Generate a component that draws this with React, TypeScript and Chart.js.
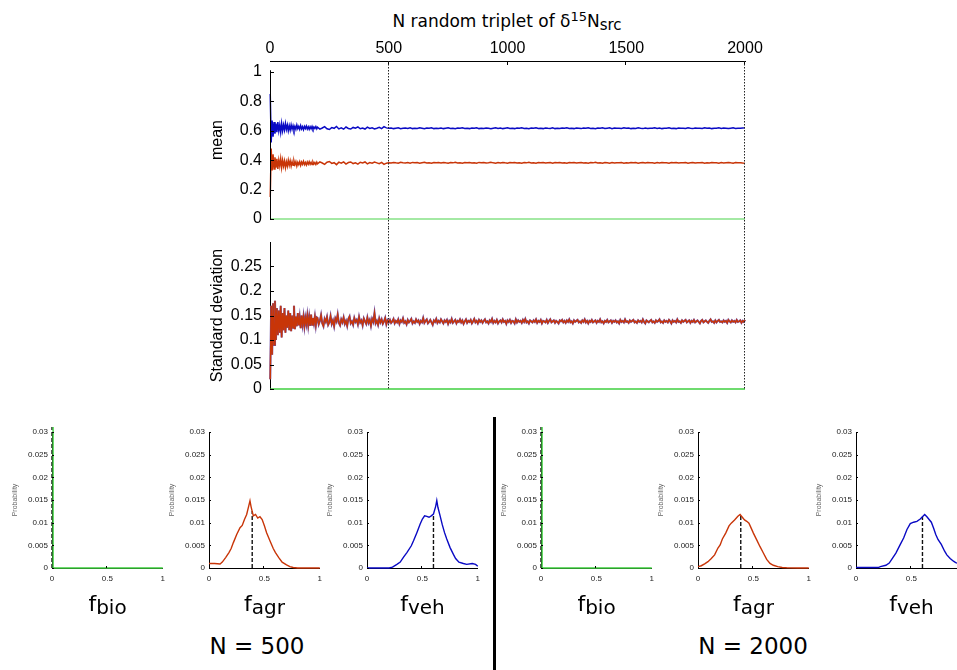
import React, { useEffect, useRef } from "react";
import { Chart, registerables } from "chart.js";
Chart.register(...registerables);

// ---------- time-series data (N random triplets) ----------
// early samples: N = 1, 5, 9, ... ; late mean samples: N = 200, 210, ... ; late std samples: N = 200, 205, ...
const N_EARLY_START = 1;
const N_EARLY_STEP = 4;
const N_LATE_START = 200;
const N_MEAN_LATE_STEP = 10;
const N_STD_LATE_STEP = 5;

const meanVehEarly = [0.85,0.52,0.67,0.56,0.66,0.58,0.65,0.59,0.66,0.6,0.64,0.59,0.65,0.6,0.64,0.605,0.65,0.61,0.64,0.6,0.635,0.605,0.64,0.61,0.635,0.605,0.63,0.61,0.64,0.615,0.63,0.61,0.635,0.612,0.628,0.608,0.63,0.615,0.632,0.612,0.627,0.61,0.628,0.614,0.63,0.612,0.626,0.616,0.629,0.613];
const meanAgrEarly = [0.15,0.48,0.33,0.44,0.34,0.42,0.35,0.41,0.34,0.4,0.36,0.41,0.35,0.4,0.36,0.395,0.35,0.39,0.36,0.4,0.365,0.395,0.36,0.39,0.365,0.395,0.37,0.39,0.36,0.385,0.37,0.39,0.365,0.388,0.372,0.392,0.37,0.385,0.368,0.388,0.373,0.39,0.372,0.386,0.37,0.388,0.374,0.384,0.371,0.387];
const stdEarly = [0.02,0.17,0.07,0.175,0.09,0.18,0.1,0.165,0.11,0.16,0.115,0.17,0.105,0.155,0.12,0.165,0.115,0.15,0.125,0.16,0.12,0.155,0.118,0.15,0.125,0.17,0.122,0.148,0.128,0.155,0.13,0.146,0.124,0.15,0.132,0.148,0.128,0.145,0.133,0.15,0.13,0.147,0.129,0.152,0.131,0.145,0.134,0.148,0.13,0.146];

const meanVehLate = [
0.624,0.611,0.619,0.628,0.614,0.609,0.622,0.617,0.63,0.613,0.62,0.611,0.626,0.616,0.612,0.623,0.618,0.627,0.614,0.619,0.612,0.625,0.616,0.621,0.613,0.618,0.624,0.615,0.628,0.62,0.617,
0.619,0.615,0.618,0.62,0.614,0.617,0.619,0.616,0.621,0.615,
0.618,0.616,0.62,0.617,0.614,0.619,0.617,0.62,0.615,0.618,
0.616,0.619,0.615,0.618,0.62,0.616,0.618,0.614,0.619,0.617,
0.62,0.616,0.618,0.615,0.619,0.617,0.621,0.615,0.618,0.616,
0.619,0.617,0.614,0.618,0.62,0.616,0.619,0.615,0.618,0.62,
0.616,0.618,0.615,0.619,0.617,0.62,0.616,0.618,0.614,0.619,
0.617,0.62,0.616,0.618,0.615,0.619,0.617,0.616,0.62,0.615,
0.618,0.616,0.619,0.617,0.621,0.616,0.618,0.615,0.619,0.617,
0.615,0.619,0.617,0.62,0.616,0.618,0.614,0.619,0.617,0.62,
0.616,0.618,0.62,0.615,0.619,0.617,0.618,0.616,0.62,0.617,
0.619,0.615,0.618,0.616,0.62,0.617,0.615,0.619,0.616,0.618,
0.617,0.62,0.616,0.619,0.615,0.618,0.617,0.621,0.616,0.618,
0.615,0.619,0.617,0.618,0.616,0.62,0.617,0.615,0.619,0.617,
0.618,0.616,0.62,0.617,0.619,0.615,0.618,0.617,0.62,0.616,
0.619,0.617,0.615,0.618,0.62,0.616,0.618,0.617,0.619,0.62];

const meanAgrLate = [
0.376,0.389,0.381,0.372,0.386,0.391,0.378,0.383,0.37,0.387,0.38,0.389,0.374,0.384,0.388,0.377,0.382,0.373,0.386,0.381,0.388,0.375,0.384,0.379,0.387,0.382,0.376,0.385,0.372,0.38,0.383,
0.381,0.385,0.382,0.38,0.386,0.383,0.381,0.384,0.379,0.385,
0.382,0.384,0.38,0.383,0.386,0.381,0.383,0.38,0.385,0.382,
0.384,0.381,0.385,0.382,0.38,0.384,0.382,0.386,0.381,0.383,
0.38,0.384,0.382,0.385,0.381,0.383,0.379,0.385,0.382,0.384,
0.381,0.383,0.386,0.382,0.38,0.384,0.381,0.385,0.382,0.38,
0.384,0.382,0.385,0.381,0.383,0.38,0.384,0.382,0.386,0.381,
0.383,0.38,0.384,0.382,0.385,0.381,0.383,0.384,0.38,0.385,
0.382,0.384,0.381,0.383,0.379,0.384,0.382,0.385,0.381,0.383,
0.385,0.381,0.383,0.38,0.384,0.382,0.386,0.381,0.383,0.38,
0.384,0.382,0.38,0.385,0.381,0.383,0.382,0.384,0.38,0.383,
0.381,0.385,0.382,0.384,0.38,0.383,0.385,0.381,0.384,0.382,
0.383,0.38,0.384,0.381,0.385,0.382,0.383,0.379,0.384,0.382,
0.385,0.381,0.383,0.382,0.384,0.38,0.383,0.385,0.381,0.383,
0.382,0.384,0.38,0.383,0.381,0.385,0.382,0.383,0.38,0.384,
0.381,0.383,0.385,0.382,0.38,0.384,0.382,0.383,0.381,0.38];

// std of f_agr and f_veh coincide (f_agr + f_veh = 1, f_bio = 0)
const stdLate = [
0.145,0.132,0.139,0.151,0.134,0.128,0.143,0.137,0.147,0.131,
0.136,0.149,0.133,0.14,0.128,0.144,0.138,0.152,0.135,0.13,
0.142,0.136,0.146,0.133,0.139,0.129,0.143,0.148,0.134,0.138,
0.131,0.145,0.137,0.141,0.132,0.147,0.136,0.14,0.13,0.144,
0.138,0.133,0.146,0.135,0.141,0.129,0.143,0.137,0.155,0.134,
0.139,0.131,0.144,0.136,0.142,0.133,0.138,0.145,0.132,0.14,
0.136,
0.141,0.135,0.138,0.143,0.134,0.139,0.136,0.142,0.133,0.14,
0.137,0.144,0.135,0.138,0.132,0.141,0.136,0.139,0.143,0.134,
0.138,0.135,0.142,0.137,0.14,0.133,0.139,0.136,0.145,0.135,
0.139,0.142,0.134,0.137,0.141,0.136,0.131,0.14,0.137,0.143,
0.135,0.139,0.136,0.142,0.138,0.134,0.14,0.137,0.141,0.133,
0.139,0.136,0.143,0.135,0.138,0.141,0.134,0.139,0.137,0.142,
0.136,0.14,0.133,0.138,0.142,0.135,0.139,0.137,0.141,0.134,
0.138,0.143,0.136,0.139,0.134,0.141,0.137,0.14,0.135,0.139,
0.142,0.136,0.138,0.134,0.14,0.137,0.143,0.135,0.139,0.136,
0.141,0.134,0.138,0.14,0.136,0.142,0.137,0.139,0.133,0.14,
0.137,0.141,0.135,0.139,0.138,0.134,0.142,0.136,0.14,0.137,
0.139,0.135,0.141,0.137,0.143,0.136,0.138,0.134,0.14,0.138,
0.136,0.14,0.137,0.142,0.135,0.139,0.137,0.141,0.134,0.139,
0.138,0.136,0.141,0.135,0.139,0.142,0.136,0.138,0.14,0.135,
0.139,0.137,0.134,0.14,0.138,0.141,0.136,0.139,0.135,0.14,
0.137,0.142,0.136,0.138,0.134,0.14,0.137,0.139,0.141,0.136,
0.138,0.135,0.14,0.137,0.142,0.136,0.139,0.134,0.139,0.137,
0.141,0.136,0.138,0.14,0.135,0.139,0.137,0.142,0.136,0.138,
0.134,0.139,0.137,0.141,0.136,0.138,0.14,0.135,0.139,0.137,
0.14,0.136,0.138,0.134,0.141,0.137,0.139,0.136,0.142,0.137,
0.138,0.135,0.14,0.137,0.139,0.141,0.136,0.138,0.135,0.14,
0.137,0.139,0.136,0.142,0.137,0.134,0.14,0.138,0.136,0.139,
0.141,0.136,0.138,0.135,0.14,0.137,0.139,0.142,0.136,0.138,
0.135,0.14,0.137,0.139,0.136,0.141,0.138,0.134,0.14,0.137,
0.139,0.136,0.142,0.137,0.138,0.135,0.14,0.137,0.139,0.141,
0.136,0.138,0.14,0.135,0.139,0.137,0.141,0.136,0.138,0.14,
0.137,0.134,0.139,0.141,0.136,0.138,0.14,0.137,0.135,0.139,
0.142,0.137,0.138,0.135,0.14,0.136,0.139,0.141,0.137,0.138,
0.136,0.14,0.137,0.139,0.135,0.141,0.138,0.136,0.14,0.137,
0.139,0.136,0.141,0.137,0.138,0.14,0.135,0.139,0.137,0.141];

const meanBio = [0, 0];
const stdBio = [0, 0];
const bioN = [1, 2000];

const topTicks = [0, 500, 1000, 1500, 2000];
const meanYTicks = [0, 0.2, 0.4, 0.6, 0.8, 1];
const stdYTicks = [0, 0.05, 0.1, 0.15, 0.2, 0.25];
const markerN = [500, 2000];

// ---------- histogram data ----------
const bioX = [0, 0.01, 1];
const bioY = [1, 0, 0];

const agr500X = [0,0.05,0.1,0.12,0.15,0.18,0.2,0.22,0.25,0.28,0.3,0.32,0.34,0.36,0.37,0.38,0.4,0.42,0.44,0.46,0.48,0.5,0.52,0.55,0.58,0.6,0.63,0.66,0.7,0.73,0.76,0.8,0.9,1];
const agr500Y = [0.001,0.001,0.0009,0.0013,0.0023,0.0034,0.0043,0.0056,0.0074,0.0089,0.0094,0.0107,0.0118,0.0138,0.0148,0.0135,0.0115,0.0118,0.011,0.0113,0.0107,0.0093,0.0078,0.006,0.0043,0.0034,0.0023,0.0013,0.0007,0.0003,0.0001,0,0,0];
const veh500X = [0,0.1,0.2,0.23,0.27,0.3,0.33,0.36,0.4,0.42,0.45,0.48,0.5,0.52,0.54,0.56,0.58,0.6,0.62,0.63,0.64,0.66,0.68,0.7,0.72,0.75,0.78,0.8,0.83,0.87,0.9,0.95,0.98,1];
const veh500Y = [0,0,0,0.0002,0.0008,0.0013,0.0024,0.0034,0.0049,0.006,0.0078,0.0097,0.0108,0.0115,0.0114,0.0112,0.0115,0.0119,0.0136,0.0149,0.0134,0.0115,0.0095,0.0078,0.0064,0.0045,0.003,0.0021,0.0013,0.001,0.0008,0.001,0.0008,0.0004];
const agr2000X = [0,0.03,0.06,0.09,0.12,0.15,0.18,0.2,0.22,0.25,0.28,0.3,0.33,0.36,0.38,0.4,0.42,0.44,0.46,0.48,0.5,0.53,0.56,0.59,0.62,0.65,0.68,0.72,0.76,0.8,0.9,1];
const agr2000Y = [0.0003,0.0005,0.0009,0.0014,0.0021,0.0029,0.0044,0.0051,0.0064,0.0077,0.0093,0.0099,0.0106,0.0114,0.0118,0.0112,0.0106,0.0103,0.0099,0.0088,0.0077,0.0062,0.0047,0.0033,0.0019,0.001,0.0006,0.0003,0.0001,0.00005,0,0];
const veh2000X = [0,0.1,0.2,0.22,0.27,0.3,0.33,0.36,0.4,0.43,0.46,0.49,0.52,0.55,0.58,0.6,0.62,0.64,0.66,0.68,0.7,0.72,0.74,0.77,0.8,0.82,0.85,0.88,0.9,0.95,1];
const veh2000Y = [0.0001,0.0001,0.0001,0.0003,0.0006,0.0011,0.0022,0.0033,0.0052,0.0066,0.0085,0.0098,0.0101,0.0103,0.0108,0.0113,0.0118,0.0113,0.0107,0.0101,0.0088,0.0074,0.0063,0.0052,0.0037,0.0029,0.0021,0.0015,0.0012,0.0008,0.0005];

// mean marker of each histogram: position and height
const histMeanX = [0, 0.39, 0.6, 0, 0.386, 0.6];
const histMeanTop = [1, 0.0126, 0.0119, 1, 0.0117, 0.0113];

const histLabels = ["bio", "agr", "veh", "bio", "agr", "veh"];
const groupLabels = ["N = 500", "N = 2000"];

// ---------- styling ----------
const AX_FONT = "'Liberation Sans', Arial, sans-serif";
const TXT_FONT = "'DejaVu Sans', sans-serif";
const BLUE = "#0a0ac4";
const RED = "#c83508";
const PURPLE = "#6f52a8";
const GREEN = "#86e286";
const GREEN_H = "#3fcf3f";

const toPts = (xs: number[], ys: number[]) => xs.map((x, i) => ({ x, y: ys[i] }));
const earlyPts = (ys: number[]) => ys.map((y, i) => ({ x: N_EARLY_START + N_EARLY_STEP * i, y }));
const latePts = (ys: number[], step: number) => ys.map((y, i) => ({ x: N_LATE_START + step * i, y }));
const fmt = (v: number | string) => String(Number(Number(v).toFixed(4)));
const noPad = (s: any) => { s.paddingTop = 0; s.paddingBottom = 0; s.paddingLeft = 0; s.paddingRight = 0; };

type TickOpts = { yLen: number; xLen: number; xVals: number[]; xSide: "top" | "bottom"; axisLineFrom?: number };

const inwardTicks = (o: TickOpts) => ({
  id: "inwardTicks",
  afterDatasetsDraw(chart: any) {
    const { ctx, chartArea, scales } = chart;
    ctx.save();
    ctx.strokeStyle = "#000";
    ctx.lineWidth = 1;
    ctx.setLineDash([]);
    const y = scales.y;
    y.ticks.forEach((t: any) => {
      const py = Math.round(y.getPixelForValue(t.value)) + 0.5;
      ctx.beginPath();
      ctx.moveTo(chartArea.left, py);
      ctx.lineTo(chartArea.left + o.yLen, py);
      ctx.stroke();
    });
    const x = scales.x;
    o.xVals.forEach((v) => {
      const px = Math.round(x.getPixelForValue(v)) - 0.5;
      const base = o.xSide === "top" ? chartArea.top : chartArea.bottom;
      ctx.beginPath();
      ctx.moveTo(px, base);
      ctx.lineTo(px, o.xSide === "top" ? base + o.xLen : base - o.xLen);
      ctx.stroke();
    });
    if (o.axisLineFrom !== undefined) {
      const px = Math.round(chartArea.left) + 0.5;
      ctx.beginPath();
      ctx.moveTo(px, y.getPixelForValue(o.axisLineFrom));
      ctx.lineTo(px, chartArea.bottom);
      ctx.stroke();
    }
    ctx.restore();
  },
});

const dottedLines = (from: "area" | "canvas", to: "area" | "canvas") => ({
  id: "dottedLines",
  afterDatasetsDraw(chart: any) {
    const { ctx, chartArea, scales, height } = chart;
    const y0 = from === "area" ? chartArea.top : 0;
    const y1 = to === "area" ? chartArea.bottom : height;
    ctx.save();
    ctx.strokeStyle = "#222";
    ctx.lineWidth = 1;
    ctx.setLineDash([1.5, 1.5]);
    markerN.forEach((n) => {
      const px = Math.round(scales.x.getPixelForValue(n)) - 0.5;
      ctx.beginPath();
      ctx.moveTo(px, y0);
      ctx.lineTo(px, y1);
      ctx.stroke();
    });
    ctx.restore();
  },
});

const lineDs = (data: any[], color: string, width: number) => ({
  data,
  borderColor: color,
  borderWidth: width,
  pointRadius: 0,
  fill: false,
  tension: 0,
  clip: 5,
});

function meanConfig(): any {
  return {
    type: "line",
    data: {
      datasets: [
        lineDs([...earlyPts(meanVehEarly), ...latePts(meanVehLate, N_MEAN_LATE_STEP)], BLUE, 1.5),
        lineDs([...earlyPts(meanAgrEarly), ...latePts(meanAgrLate, N_MEAN_LATE_STEP)], RED, 1.5),
        lineDs(toPts(bioN, meanBio), GREEN, 1.5),
      ],
    },
    options: {
      responsive: false,
      animation: false,
      events: [],
      layout: { padding: { left: 0, right: 55, top: 0, bottom: 9 } },
      plugins: { legend: { display: false }, tooltip: { enabled: false } },
      scales: {
        x: {
          type: "linear",
          position: "top",
          min: 0,
          max: 2000,
          afterBuildTicks: (s: any) => { s.ticks = topTicks.map((v) => ({ value: v })); },
          afterFit: (s: any) => { s.height = 61; noPad(s); },
          grid: { display: false, drawTicks: false },
          border: { display: true, color: "#000", width: 1 },
          ticks: { color: "#000", padding: 3, font: { family: AX_FONT, size: 16 }, maxRotation: 0, autoSkip: false, callback: (v: any) => fmt(v) },
        },
        y: {
          min: 0,
          max: 1.075,
          afterBuildTicks: (s: any) => { s.ticks = meanYTicks.map((v) => ({ value: v })); },
          afterFit: (s: any) => { s.width = 70; noPad(s); },
          grid: { display: false, drawTicks: false },
          border: { display: false },
          ticks: { color: "#000", padding: 8, font: { family: AX_FONT, size: 16 }, callback: (v: any) => fmt(v) },
          title: { display: true, text: "mean", color: "#000", font: { family: AX_FONT, size: 16 }, padding: { top: 8, bottom: 0 } },
        },
      },
    },
    plugins: [inwardTicks({ yLen: 4, xLen: 4, xVals: [500, 1000, 1500, 2000], xSide: "top", axisLineFrom: 1.012 }), dottedLines("area", "canvas")],
  };
}

function stdConfig(): any {
  const stdPts = [...earlyPts(stdEarly), ...latePts(stdLate, N_STD_LATE_STEP)];
  return {
    type: "line",
    data: {
      datasets: [
        lineDs(stdPts, RED, 1.4),
        lineDs(stdPts, PURPLE, 2.1),
        lineDs(toPts(bioN, stdBio), GREEN_H, 1.5),
      ],
    },
    options: {
      responsive: false,
      animation: false,
      events: [],
      layout: { padding: { left: 0, right: 55, top: 14, bottom: 11 } },
      plugins: { legend: { display: false }, tooltip: { enabled: false } },
      scales: {
        x: { type: "linear", display: false, min: 0, max: 2000 },
        y: {
          min: 0,
          max: 0.3,
          afterBuildTicks: (s: any) => { s.ticks = stdYTicks.map((v) => ({ value: v })); },
          afterFit: (s: any) => { s.width = 70; noPad(s); },
          grid: { display: false, drawTicks: false },
          border: { display: true, color: "#000", width: 1 },
          ticks: { color: "#000", padding: 8, font: { family: AX_FONT, size: 16 }, callback: (v: any) => fmt(v) },
          title: { display: true, text: "Standard deviation", color: "#000", font: { family: AX_FONT, size: 16 }, padding: { top: 8, bottom: 0 } },
        },
      },
    },
    plugins: [inwardTicks({ yLen: 4, xLen: 0, xVals: [], xSide: "bottom" }), dottedLines("canvas", "area")],
  };
}

const histSeries = [
  { xs: bioX, ys: bioY, color: GREEN_H },
  { xs: agr500X, ys: agr500Y, color: RED },
  { xs: veh500X, ys: veh500Y, color: BLUE },
  { xs: bioX, ys: bioY, color: GREEN_H },
  { xs: agr2000X, ys: agr2000Y, color: RED },
  { xs: veh2000X, ys: veh2000Y, color: BLUE },
];

function histConfig(i: number): any {
  const h = histSeries[i];
  return {
    type: "line",
    data: {
      datasets: [
        lineDs(toPts(h.xs, h.ys), h.color, 1.4),
        {
          ...lineDs(toPts([histMeanX[i], histMeanX[i]], [0, histMeanTop[i]]), "#111", 1.4),
          borderDash: [4, 2],
        },
      ],
    },
    options: {
      responsive: false,
      animation: false,
      events: [],
      layout: { padding: { left: 0, right: 8, top: 12, bottom: 0 } },
      plugins: { legend: { display: false }, tooltip: { enabled: false } },
      scales: {
        x: {
          type: "linear",
          min: 0,
          max: 1,
          afterFit: (s: any) => { s.height = 27; },
          grid: { display: false, drawTicks: false },
          border: { display: true, color: "#000", width: 1 },
          ticks: { stepSize: 0.5, color: "#222", padding: 6, font: { family: AX_FONT, size: 8 }, maxRotation: 0, callback: (v: any) => fmt(v) },
        },
        y: {
          min: 0,
          max: 0.03,
          afterFit: (s: any) => { s.width = 52; },
          grid: { display: false, drawTicks: false },
          border: { display: true, color: "#000", width: 1 },
          ticks: { stepSize: 0.005, color: "#222", padding: 4, font: { family: AX_FONT, size: 8 }, callback: (v: any) => fmt(v) },
          title: { display: true, text: "Probability", color: "#666", font: { family: AX_FONT, size: 7 }, padding: { top: 11, bottom: 0 } },
        },
      },
    },
    plugins: [inwardTicks({ yLen: 2, xLen: 2, xVals: [0.5], xSide: "bottom" })],
  };
}

// page positions (x of each histogram's left axis)
const HIST_AXIS_X = [52, 209, 367, 541, 698, 856];
const HIST_W = 111;

export default function App() {
  const meanRef = useRef<HTMLCanvasElement>(null);
  const stdRef = useRef<HTMLCanvasElement>(null);
  const histRefs = useRef<(HTMLCanvasElement | null)[]>([]);

  useEffect(() => {
    const charts: Chart[] = [];
    if (meanRef.current) charts.push(new Chart(meanRef.current, meanConfig()));
    if (stdRef.current) charts.push(new Chart(stdRef.current, stdConfig()));
    histRefs.current.forEach((c, i) => {
      if (c) charts.push(new Chart(c, histConfig(i)));
    });
    return () => charts.forEach((c) => c.destroy());
  }, []);

  const abs = (l: number, t: number, w: number, h: number): React.CSSProperties => ({
    position: "absolute", left: l, top: t, width: w, height: h,
  });

  return (
    <div style={{ position: "absolute", left: 0, top: 0, width: 957, height: 670, overflow: "hidden", background: "#fff" }}>
      <div style={{ position: "absolute", left: 307, top: 7, width: 400, textAlign: "center", fontFamily: TXT_FONT, fontSize: 17, lineHeight: "20px", color: "#000", whiteSpace: "nowrap" }}>
        N random triplet of δ<sup style={{ fontSize: 13, verticalAlign: "6px" }}>15</sup>N<sub style={{ fontSize: 15, verticalAlign: "-3px" }}>src</sub>
      </div>
      <canvas ref={meanRef} width={600} height={228} style={abs(200, 0, 600, 228)} />
      <canvas ref={stdRef} width={600} height={172} style={abs(200, 228, 600, 172)} />
      {HIST_AXIS_X.map((ax, i) => (
        <canvas
          key={i}
          ref={(el) => { histRefs.current[i] = el; }}
          width={171}
          height={175}
          style={abs(ax - 52, 420, 171, 175)}
        />
      ))}
      {HIST_AXIS_X.map((ax, i) => (
        <div key={"l" + i} style={{ position: "absolute", left: ax + HIST_W / 2 - 60, top: 591, width: 120, textAlign: "center", fontFamily: TXT_FONT, fontSize: 22, lineHeight: "26px", color: "#000", whiteSpace: "nowrap" }}>
          f<span style={{ fontSize: 20, position: "relative", top: 3 }}>{histLabels[i]}</span>
        </div>
      ))}
      <div style={{ position: "absolute", left: 157, top: 632, width: 200, textAlign: "center", fontFamily: TXT_FONT, fontSize: 23, lineHeight: "28px", color: "#000" }}>{groupLabels[0]}</div>
      <div style={{ position: "absolute", left: 653, top: 632, width: 200, textAlign: "center", fontFamily: TXT_FONT, fontSize: 23, lineHeight: "28px", color: "#000" }}>{groupLabels[1]}</div>
      <div style={{ position: "absolute", left: 493, top: 417, width: 3, height: 253, background: "#000" }} />
    </div>
  );
}
